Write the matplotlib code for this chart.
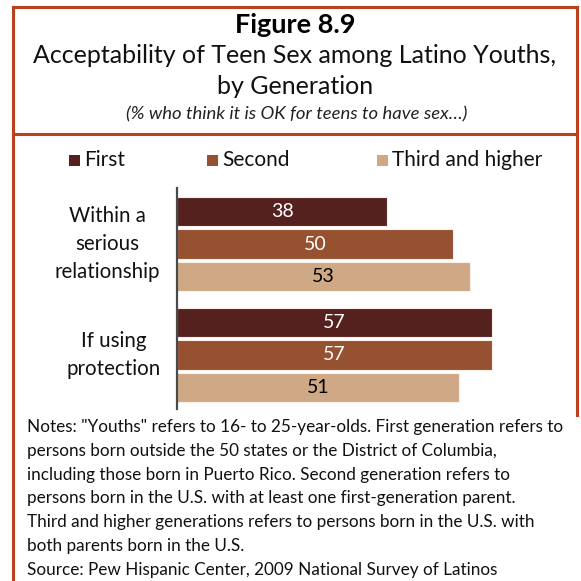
import matplotlib
matplotlib.use("Agg")
import matplotlib.pyplot as plt
import matplotlib.transforms as mtransforms
from matplotlib.patches import Rectangle
from matplotlib.lines import Line2D

categories = ["Within a\nserious\nrelationship", "If using\nprotection"]
series_names = ["First", "Second", "Third and higher"]
first = [38, 57]
second = [50, 57]
third = [53, 51]
series_values = [first, second, third]
colors = ["#55211F", "#965130", "#CFA885"]
label_colors = ["white", "white", "black"]

title = "Figure 8.9"
subtitle = "Acceptability of Teen Sex among Latino Youths,\nby Generation"
note_italic = "(% who think it is OK for teens to have sex\u2026)"
notes = ('Notes: "Youths" refers to 16- to 25-year-olds. First generation refers to\n'
         'persons born outside the 50 states or the District of Columbia,\n'
         'including those born in Puerto Rico. Second generation refers to\n'
         'persons born in the U.S. with at least one first-generation parent.\n'
         'Third and higher generations refers to persons born in the U.S. with\n'
         'both parents born in the U.S.\n'
         'Source: Pew Hispanic Center, 2009 National Survey of Latinos')

W = H = 581
FONT = "Lato"
plt.rcParams['font.family'] = [FONT, 'DejaVu Sans']

fig = plt.figure(figsize=(W / 100, H / 100), dpi=100)
fig.patch.set_facecolor("white")

def fx(x):
    return x / W

def fy(y):
    return 1 - y / H

border = "#B9411D"
# frame lines
fig.add_artist(Line2D([fx(13), fx(577)], [fy(6.5), fy(6.5)], color=border, lw=2.2, transform=fig.transFigure))
fig.add_artist(Line2D([fx(13), fx(13)], [fy(6.5), fy(581)], color=border, lw=2.2, transform=fig.transFigure))
fig.add_artist(Line2D([fx(577), fx(577)], [fy(6.5), fy(415)], color=border, lw=2.2, transform=fig.transFigure))
fig.add_artist(Line2D([fx(13), fx(577)], [fy(134), fy(134)], color=border, lw=2.2, transform=fig.transFigure))

# titles
fig.text(fx(295), fy(25), title, ha="center", va="center", fontsize=19.5, fontweight="bold", color="black")
fig.text(fx(295), fy(71), subtitle, ha="center", va="center", fontsize=18, color="#111111", linespacing=1.45)
fig.text(fx(297), fy(114), note_italic, ha="center", va="center", fontsize=13.3, style="italic", color="#222222")

# legend
leg_x = [69, 207, 377]
for name, c, lx in zip(series_names, colors, leg_x):
    fig.add_artist(Rectangle((fx(lx), fy(166)), fx(11), 11 / H, facecolor=c, edgecolor="none", transform=fig.transFigure))
    fig.text(fx(lx + 15), fy(160), name, ha="left", va="center", fontsize=15, color="#111111")

# axes
ax_left, ax_right, ax_top, ax_bot = 177, 564, 188, 409
ax = fig.add_axes([fx(ax_left), fy(ax_bot), (ax_right - ax_left) / W, (ax_bot - ax_top) / H])
ax.set_xlim(0, 70)
group_gap = 3.4
ax.set_ylim(6.06, -0.72)
bar_h = 0.9
for i, (vals, c, lc) in enumerate(zip(series_values, colors, label_colors)):
    pos = [g * group_gap + i for g in range(len(categories))]
    bars = ax.barh(pos, vals, height=bar_h, color=c, edgecolor="#FBEFE8", linewidth=0.8)
    for b, v in zip(bars, vals):
        ax.text(v / 2, b.get_y() + b.get_height() / 2, f"{v}", ha="center", va="center",
                fontsize=14, color=lc)

ax.set_yticks([g * group_gap + 1 for g in range(len(categories))])
ax.set_yticklabels(categories, fontsize=14.8, color="#111111", ha="center", linespacing=1.5)
ax.tick_params(axis="y", length=0, pad=50)
label_shift = [0, 6]
for lbl, dx in zip(ax.get_yticklabels(), label_shift):
    lbl.set_va("center")
    lbl.set_transform(lbl.get_transform() + mtransforms.ScaledTranslation(dx / 100, 0, fig.dpi_scale_trans))
ax.set_xticks([])
for s in ["top", "right", "bottom"]:
    ax.spines[s].set_visible(False)
ax.spines["left"].set_color("#4a4a4a")
ax.spines["left"].set_linewidth(1.6)
ax.patch.set_alpha(0)

# notes
fig.text(fx(27), fy(419), notes, ha="left", va="top", fontsize=12.3, color="#111111", linespacing=1.6)

fig.savefig("out.png", dpi=100, facecolor="white")
